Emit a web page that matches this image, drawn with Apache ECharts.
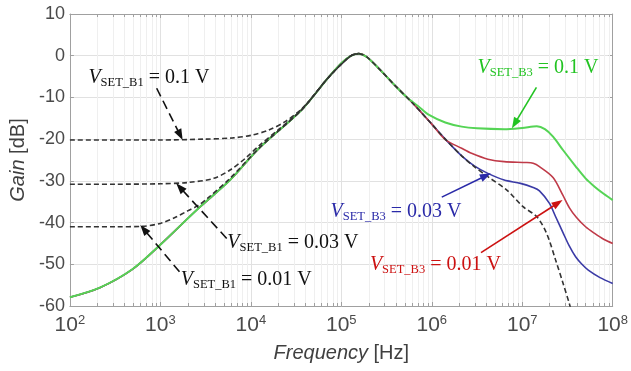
<!DOCTYPE html>
<html><head><meta charset="utf-8">
<script src="https://cdn.jsdelivr.net/npm/echarts@6/dist/echarts.min.js"></script>
<style>html,body{margin:0;padding:0;background:#fff}#c{width:631px;height:371px}</style>
</head><body><div id="c"></div>
<script>
// ---- data (frequency in Hz, gain in dB) ----
const xMin = 1e2, xMax = 1e8;
const yMin = -60, yMax = 10, yStep = 10;
const minorMantissas = [2,3,4,5,6,7,8,9];
const decadeStarts = [1e2,1e3,1e4,1e5,1e6,1e7];

// shared low-frequency part of the V_SET_B3 (solid) curves
const riseFreq = [1e2,2.14e2,4.9e2,1e3,2.57e3,5.89e3,1.23e4,3.63e4,7.08e4,1e5,1.26e5,1.55e5,1.91e5,2.69e5];
const riseGain = [-57.9,-55.6,-51.2,-45.3,-36.8,-29.8,-22.2,-13.0,-5.4,-1.8,-0.1,0.5,-0.3,-3.4];

// V_SET_B3 = 0.1 V (green)
const greenFreq = [3.98e5,5.25e5,7.08e5,9.33e5,1.41e6,2.14e6,3.16e6,6.31e6,1e7,1.45e7,1.78e7,2.19e7,2.82e7,3.89e7,5.01e7,6.31e7,7.94e7,1e8];
const greenGain = [-7.3,-9.9,-12.1,-14.2,-16.0,-17.0,-17.4,-17.6,-17.3,-16.9,-17.6,-19.4,-22.6,-26.5,-29.4,-31.4,-33.1,-34.6];
// V_SET_B3 = 0.01 V (red)
const redFreq = [3.98e5,6.17e5,1e6,1.41e6,2.14e6,2.75e6,4.17e6,6.31e6,1.12e7,1.32e7,1.55e7,2.19e7,2.82e7,3.31e7,3.98e7,5.01e7,6.31e7,7.94e7,1e8];
const redGain = [-7.3,-11.4,-16.4,-20.1,-22.2,-23.4,-24.8,-25.4,-25.6,-25.8,-26.6,-29.2,-33.5,-36.4,-38.8,-41.0,-42.6,-44.0,-45.0];
// V_SET_B3 = 0.03 V (blue)
const blueFreq = [3.98e5,6.17e5,1e6,1.41e6,2.14e6,2.95e6,4.17e6,6.31e6,9.55e6,1.32e7,1.55e7,2e7,2.34e7,2.82e7,3.31e7,3.89e7,4.57e7,5.37e7,7.24e7,1e8];
const blueGain = [-7.3,-11.4,-16.4,-20.0,-24.0,-26.4,-28.2,-29.8,-30.6,-31.6,-32.4,-35.4,-38.6,-42.4,-45.6,-48.2,-50.0,-51.4,-53.2,-54.6];

// high-frequency part of the V_SET_B1 (dashed) curve
const dashTailFreq = [1e5,1.26e5,1.55e5,1.91e5,2.69e5,3.98e5,6.17e5,1e6,1.41e6,2.14e6,2.95e6,4.17e6,6.76e6,1.02e7,1.45e7,1.86e7,2.34e7,2.82e7,3.31e7,3.63e7];
const dashTailGain = [-1.8,-0.1,0.5,-0.3,-3.4,-7.3,-11.4,-16.4,-20.0,-24.0,-26.6,-29.0,-32.2,-36.2,-38.6,-42.6,-49.0,-54.5,-59.4,-62.5];
// V_SET_B1 = 0.1 V
const b1aFreq = [1e2,3.16e2,1e3,3.02e3,6.31e3,1.05e4,1.58e4,2.4e4,3.63e4,5.01e4,7.08e4];
const b1aGain = [-20.2,-20.2,-20.2,-20.0,-19.7,-19.0,-17.8,-15.8,-12.8,-9.5,-5.4];
// V_SET_B1 = 0.03 V
const b1bFreq = [1e2,3.16e2,1e3,2e3,3.89e3,5.89e3,8.91e3,1.23e4,2e4,3.63e4,7.08e4];
const b1bGain = [-30.8,-30.8,-30.7,-30.4,-29.4,-27.4,-24.4,-21.6,-17.8,-13.0,-5.4];
// V_SET_B1 = 0.01 V
const b1cFreq = [1e2,3.16e2,6.31e2,1e3,1.45e3,2e3,2.57e3,3.31e3,5.89e3,1.23e4,3.63e4,7.08e4];
const b1cGain = [-41.0,-41.0,-40.9,-40.2,-38.8,-37.2,-36.0,-34.2,-29.4,-22.2,-13.0,-5.4];

// annotation labels: [freq, gain] anchors of label / arrow start / arrow tip
const annLabels = [
  {sub:'SET_B1', val:'0.1 V',  color:'#111111', at:[160,-5.3],    from:[910,-7.8],    to:[1762,-20.2],  dashed:true},
  {sub:'SET_B1', val:'0.03 V', color:'#111111', at:[5500,-44.9],  from:[5410,-43.8],  to:[1496,-30.6],  dashed:true},
  {sub:'SET_B1', val:'0.01 V', color:'#111111', at:[1680,-53.8],  from:[1626,-51.8],  to:[600,-40.6],   dashed:true},
  {sub:'SET_B3', val:'0.1 V',  color:'#22c322', at:[3.2e6,-3.0],  from:[1.435e7,-7.6],to:[7.69e6,-17.4],dashed:false},
  {sub:'SET_B3', val:'0.03 V', color:'#2a2aa8', at:[7.6e4,-37.4], from:[1.29e6,-33.9],to:[4.49e6,-28.2],dashed:false},
  {sub:'SET_B3', val:'0.01 V', color:'#cc1111', at:[2.07e5,-50.2],from:[3.5e6,-47.2], to:[2.79e7,-34.6],dashed:false}
];

// ---- build ----
const zip = (f, g) => f.map((v, i) => [v, g[i]]);
const minorFreqs = [];
decadeStarts.forEach(d => minorMantissas.forEach(m => minorFreqs.push(m * d)));

const AX = '#a0a0a0', LBL = '#4a4a4a';
const sans = 'Liberation Sans, Arial, sans-serif';
const serif = 'Liberation Serif, Times New Roman, serif';

const chart = echarts.init(document.getElementById('c'), null, {renderer:'canvas'});
const lineBase = {type:'line', showSymbol:false, symbol:'none', smooth:0.3, clip:true, silent:true, animation:false};
const tail = zip(dashTailFreq, dashTailGain);

chart.setOption({
  animation:false,
  backgroundColor:'#ffffff',
  grid:{left:63, right:13, top:14, bottom:65},
  xAxis:[
    {type:'log', logBase:10, min:xMin, max:xMax, position:'bottom',
     axisLine:{show:true, onZero:false, lineStyle:{color:AX, width:1}},
     axisTick:{show:true, inside:true, length:4, lineStyle:{color:AX}},
     splitLine:{show:true, lineStyle:{color:'#e1e1e1', width:1}},
     axisLabel:{margin:7, color:LBL,
       formatter: v => '{b|10}{e|' + Math.round(Math.log10(v)) + '}',
       rich:{ b:{fontFamily:sans, fontSize:21, color:LBL, lineHeight:24},
              e:{fontFamily:sans, fontSize:13, color:LBL, lineHeight:14, padding:[0,0,10,0]} } },
     name:'{i|Frequency} [Hz]', nameLocation:'middle', nameGap:37,
     nameTextStyle:{fontFamily:sans, fontSize:20, color:'#404040',
       rich:{i:{fontFamily:sans, fontSize:20, fontStyle:'italic', color:'#404040'}}}},
    {type:'log', logBase:10, min:xMin, max:xMax, position:'top',
     axisLine:{show:true, onZero:false, lineStyle:{color:AX, width:1}},
     axisTick:{show:true, inside:true, length:4, lineStyle:{color:AX}},
     axisLabel:{show:false}, splitLine:{show:false}}
  ],
  yAxis:[
    {type:'value', min:yMin, max:yMax, interval:yStep, position:'left',
     axisLine:{show:true, onZero:false, lineStyle:{color:AX, width:1}},
     axisTick:{show:true, inside:true, length:4, lineStyle:{color:AX}},
     splitLine:{show:true, lineStyle:{color:'#e1e1e1', width:1}},
     axisLabel:{margin:5, fontFamily:sans, fontSize:18, color:LBL},
     name:'{i|Gain} [dB]', nameLocation:'middle', nameGap:38, nameRotate:90,
     nameTextStyle:{fontFamily:sans, fontSize:20, color:'#404040',
       rich:{i:{fontFamily:sans, fontSize:20, fontStyle:'italic', color:'#404040'}}}},
    {type:'value', min:yMin, max:yMax, interval:yStep, position:'right',
     axisLine:{show:true, onZero:false, lineStyle:{color:AX, width:1}},
     axisTick:{show:true, inside:true, length:4, lineStyle:{color:AX}},
     axisLabel:{show:false}, splitLine:{show:false}}
  ],
  series:[
    {type:'custom', xAxisIndex:0, yAxisIndex:0, silent:true, z:1,
     data: minorFreqs.map(f => [f, yMin]),
     renderItem:(params, api) => {
       const f = api.value(0);
       const b = api.coord([f, yMin]), t = api.coord([f, yMax]);
       const x = Math.round(b[0]) + 0.5;
       return {type:'group', children:[
         {type:'line', shape:{x1:x, y1:b[1], x2:x, y2:t[1]}, style:{stroke:'#efefef', lineWidth:1}},
         {type:'line', shape:{x1:x, y1:b[1], x2:x, y2:b[1]-3}, style:{stroke:AX, lineWidth:1}},
         {type:'line', shape:{x1:x, y1:t[1], x2:x, y2:t[1]+3}, style:{stroke:AX, lineWidth:1}}
       ]};
     }},
    Object.assign({}, lineBase, {name:'B3 0.03', data: zip(riseFreq, riseGain).concat(zip(blueFreq, blueGain)), lineStyle:{color:'#3b3ba6', width:1.6}}),
    Object.assign({}, lineBase, {name:'B3 0.01', data: zip(riseFreq, riseGain).concat(zip(redFreq, redGain)), lineStyle:{color:'#bf3a48', width:1.6}}),
    Object.assign({}, lineBase, {name:'B3 0.1', data: zip(riseFreq, riseGain).concat(zip(greenFreq, greenGain)), lineStyle:{color:'#55d455', width:2}}),
    Object.assign({}, lineBase, {name:'B1 0.03', data: zip(b1bFreq, b1bGain).concat(tail.slice(1, 3)), lineStyle:{color:'#333333', width:1.6, type:[5,3]}}),
    Object.assign({}, lineBase, {name:'B1 0.01', data: zip(b1cFreq, b1cGain).concat(tail.slice(1, 3)), lineStyle:{color:'#333333', width:1.6, type:[5,3]}}),
    Object.assign({}, lineBase, {name:'B1 0.1', data: zip(b1aFreq, b1aGain).concat(tail.slice(1)), lineStyle:{color:'#333333', width:1.6, type:[5,3]}})
  ]
});

// ---- annotations (anchored in data coordinates) ----
const px = p => chart.convertToPixel({gridIndex:0}, p);
const graphics = [];
annLabels.forEach(a => {
  const p = px(a.at), s = px(a.from), t = px(a.to);
  const dx = t[0]-s[0], dy = t[1]-s[1], L = Math.hypot(dx, dy);
  const ux = dx/L, uy = dy/L, nx = -uy, ny = ux;
  const hl = 11, hw = 4;
  const bx = t[0]-ux*hl, by = t[1]-uy*hl;
  graphics.push({type:'line', silent:true, z:100,
    shape:{x1:s[0], y1:s[1], x2:t[0]-ux*hl*0.7, y2:t[1]-uy*hl*0.7},
    style:{stroke:a.color, lineWidth:1.6, lineDash: a.dashed ? [9,5] : null}});
  graphics.push({type:'polygon', silent:true, z:100,
    shape:{points:[[t[0],t[1]],[bx+nx*hw, by+ny*hw],[bx-nx*hw, by-ny*hw]]},
    style:{fill:a.color, stroke:null}});
  graphics.push({type:'text', silent:true, z:100, x:p[0], y:p[1],
    style:{text:'{v|V}{s|' + a.sub + '}{n| = ' + a.val + '}', align:'left', verticalAlign:'middle',
      fill:a.color,
      rich:{ v:{fontFamily:serif, fontStyle:'italic', fontSize:20, lineHeight:22, fill:a.color},
             s:{fontFamily:serif, fontSize:12.5, lineHeight:13, padding:[9,0,0,0], fill:a.color},
             n:{fontFamily:serif, fontSize:20, lineHeight:22, fill:a.color} }}});
});
chart.setOption({graphic: graphics});
</script>
</body></html>
